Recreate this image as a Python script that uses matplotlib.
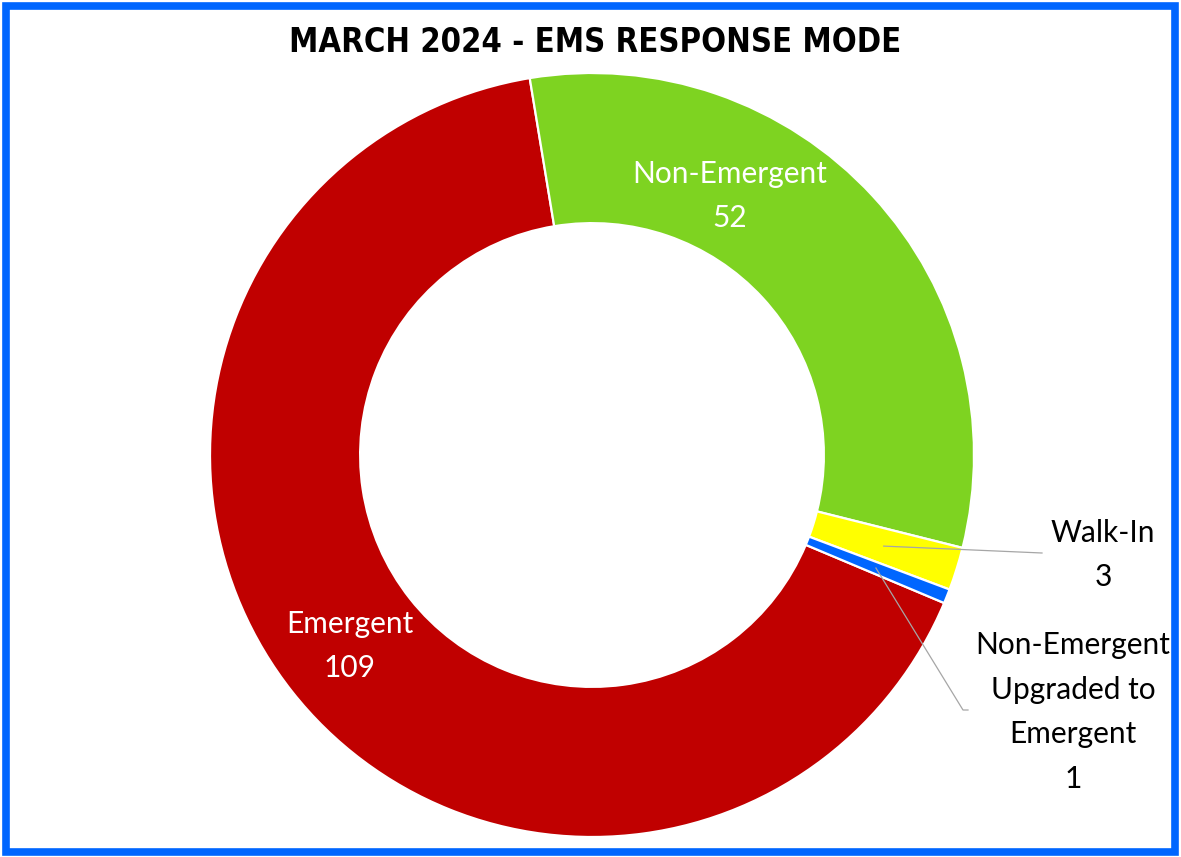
import numpy as np
import matplotlib.pyplot as plt
from matplotlib.patches import Rectangle

# EMS response mode counts, March 2024
categories = ["Emergent", "Non-Emergent", "Walk-In", "Non-Emergent\nUpgraded to\nEmergent"]
counts = [109, 52, 3, 1]
colors = ["#C00000", "#7ED321", "#FFFF00", "#0066FF"]
title = "MARCH 2024 - EMS RESPONSE MODE"

W, H = 1181, 857
cx, cy, R = 592, 455, 382   # donut centre / outer radius in pixels

fig = plt.figure(figsize=(W / 100, H / 100), dpi=100)
ax = fig.add_axes([0, 0, 1, 1])

start = -22.8
wedges, _ = ax.pie(counts, colors=colors, startangle=start, counterclock=False,
                   radius=1.0, wedgeprops=dict(width=0.393, edgecolor="white", linewidth=1.6))
# pie() resets the limits, so set them afterwards
ax.set_aspect("auto")
ax.set_xlim(-cx / R, (W - cx) / R)
ax.set_ylim(-(H - cy) / R, cy / R)
ax.axis("off")


def px(x, y):
    return (x - cx) / R, (cy - y) / R


lab_font = dict(family="Lato", fontsize=21.5, linespacing=1.72, ha="center", va="center")

# labels inside the two big slices
ax.text(*px(730, 196), f"{categories[1]}\n{counts[1]}", color="white", **lab_font)
ax.text(*px(350, 646), f"{categories[0]}\n{counts[0]}", color="white", **lab_font)

# outside labels with leader lines for the two thin slices
total = sum(counts)
cum = np.cumsum([0] + counts)
for i, (lx, ly, elbow) in [(2, (1103, 555, None)), (3, (1073, 712, (963, 710)))]:
    mid = start - 360 * (cum[i] + counts[i] / 2) / total
    a = np.radians(mid)
    p0 = (0.8 * np.cos(a), 0.8 * np.sin(a))
    if elbow is None:
        pts = [p0, px(1042, 553)]
    else:
        pts = [p0, px(*elbow), px(elbow[0] + 5, elbow[1])]
    xs, ys = zip(*pts)
    ax.plot(xs, ys, color="#A6A6A6", lw=0.9)
    ax.text(*px(lx, ly), f"{categories[i]}\n{counts[i]}", color="black", **lab_font)

fig.text(595 / W, 1 - 43 / H, title, ha="center", va="center", fontsize=23.5,
         fontweight="bold", fontstretch="condensed", family="DejaVu Sans")

# blue frame around the whole chart
fig.patches.append(Rectangle((6 / W, 5 / H), 1 - 12 / W, 1 - 11 / H, transform=fig.transFigure,
                             fill=False, edgecolor="#0066FF", linewidth=5.5))

fig.savefig("out.png", dpi=100)
